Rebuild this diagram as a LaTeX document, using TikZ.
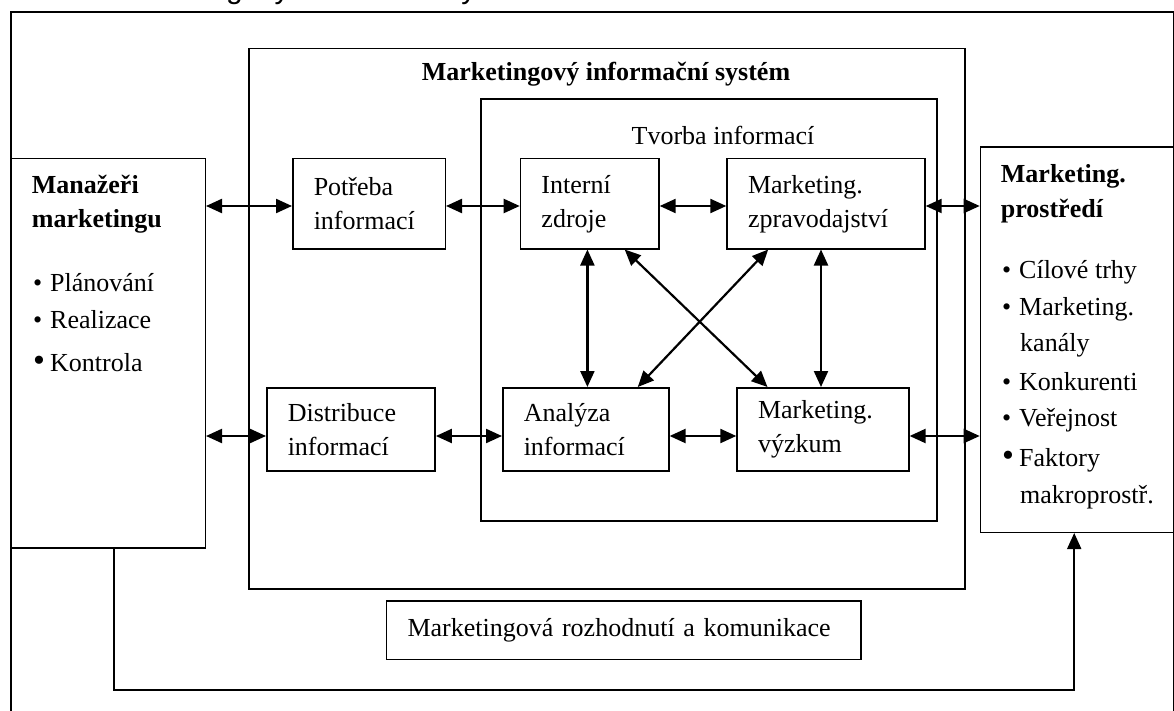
\documentclass[tikz,border=0pt]{standalone}
\usepackage{fontspec}
\setmainfont{Liberation Serif}
\newfontfamily\capfont{Liberation Sans}
\usetikzlibrary{arrows.meta,calc}
\newcommand\mybul{\makebox[17pt][l]{•}}
\newcommand\mybigbul{\makebox[17pt][l]{\fontsize{34}{34}\selectfont •}}
\begin{document}
\begin{tikzpicture}[x=1pt,y=-1pt,
  box/.style={draw, line width=1.5pt, inner sep=0pt, align=left, anchor=north west,
    font=\fontsize{26}{34}\selectfont},
  frame/.style={draw, line width=1.6pt, inner sep=0pt, anchor=north west},
  txt/.style={inner sep=0pt, anchor=base west, font=\fontsize{26}{34}\selectfont},
  btxt/.style={txt, font=\fontsize{26}{34}\selectfont\bfseries},
  dbl/.style={{Triangle[length=16pt,width=14pt]}-{Triangle[length=16pt,width=14pt]}, line width=2.2pt},
  sgl/.style={-{Triangle[length=16pt,width=14pt]}, line width=1.8pt}
]
\useasboundingbox (0,0) rectangle (1174,711);
\clip (0,0) rectangle (1174,711);

% clipped caption at the top
\node[inner sep=0pt, anchor=base west, font=\capfont\fontsize{30}{30}\selectfont] (cap) at (111,-1) {Marketingový informační systém};

% outer frame
\node[frame, minimum width=1162.5pt, minimum height=760pt] (outer) at (10,11.5) {};

% containers
\node[frame, line width=1.5pt, minimum width=716.4pt, minimum height=540.6pt] (mis) at (248,47.6) {};
\node[frame, line width=1.5pt, minimum width=456.1pt, minimum height=421.8pt] (tvo) at (480.3,98.4) {};
\node[btxt, anchor=base] (mist) at (606,81) {Marketingový informační systém};
\node[txt, anchor=base] (tvot) at (723,145) {Tvorba informací};

% side boxes
\node[frame, line width=1.5pt, minimum width=194.5pt, minimum height=389.6pt] (man) at (10,157.8) {};
\node[frame, line width=1.5pt, minimum width=192.8pt, minimum height=385pt] (env) at (979.7,146.5) {};

\node[btxt] (mant1) at (31.7,193.3) {Manažeři};
\node[btxt] (mant2) at (31.7,227.3) {marketingu};
\node[txt] (manb1) at (33,291.7) {\mybul Plánování};
\node[txt] (manb2) at (33,328.3) {\mybul Realizace};
\node[txt] (manb3) at (33,371) {\mybigbul Kontrola};

\node[btxt] (envt1) at (1000.7,182.7) {Marketing.};
\node[btxt] (envt2) at (1000.7,217.3) {prostředí};
\node[txt] (envb1) at (1002,278.3) {\mybul Cílové trhy};
\node[txt] (envb2) at (1002,315) {\mybul Marketing.};
\node[txt] (envb2b) at (1020,351.7) {kanály};
\node[txt] (envb3) at (1002,390) {\mybul Konkurenti};
\node[txt] (envb4) at (1002,426.7) {\mybul Veřejnost};
\node[txt] (envb5) at (1002,466.7) {\mybigbul Faktory};
\node[txt] (envb5b) at (1020,503.3) {makroprostř.};

% inner boxes
\node[box, minimum width=152.5pt, minimum height=90pt, text width=110.5pt] (pot) at (292,158) {Potřeba\\informací};
\node[box, minimum width=138.5pt, minimum height=90pt, text width=96.5pt] (int) at (519.7,158) {Interní\\zdroje};
\node[box, minimum width=197.9pt, minimum height=90pt, text width=155.9pt] (zpr) at (726.3,158) {Marketing.\\zpravodajství};
\node[box, minimum width=168.4pt, minimum height=83.3pt, text width=126.4pt] (dis) at (266,387) {Distribuce\\informací};
\node[box, minimum width=166.1pt, minimum height=83.3pt, text width=124.1pt] (ana) at (502,387) {Analýza\\informací};
\node[box, minimum width=171.8pt, minimum height=83.3pt, text width=129.8pt] (vyz) at (736.3,387) {Marketing.\\výzkum};
\node[box, minimum width=474.5pt, minimum height=58.5pt, text width=432.5pt] (roz) at (385.8,600) {Marketingová rozhodnutí a komunikace};

% helper coordinates
\coordinate (h1) at (0,206);
\coordinate (h2) at (0,436);
\coordinate (v1) at (587.4,0);
\coordinate (v2) at (821,0);
\coordinate (lp1) at (114,690.3);
\coordinate (lp2) at (1074.2,690.3);

% horizontal arrows
\draw[dbl] (man.east |- h1) -- (pot.west |- h1);
\draw[dbl] (pot.east |- h1) -- (int.west |- h1);
\draw[dbl] (int.east |- h1) -- (zpr.west |- h1);
\draw[dbl] (zpr.east |- h1) -- (env.west |- h1);
\draw[dbl] (man.east |- h2) -- (dis.west |- h2);
\draw[dbl] (dis.east |- h2) -- (ana.west |- h2);
\draw[dbl] (ana.east |- h2) -- (vyz.west |- h2);
\draw[dbl] (vyz.east |- h2) -- (env.west |- h2);

% vertical arrows
\draw[dbl] (int.south -| v1) -- (ana.north -| v1);
\draw[dbl] (zpr.south -| v2) -- (vyz.north -| v2);

% diagonals
\draw[dbl] ($(int.south west)!0.75!(int.south east)$) -- ($(vyz.north west)!0.18!(vyz.north east)$);
\draw[dbl] ($(zpr.south west)!0.21!(zpr.south east)$) -- ($(ana.north west)!0.81!(ana.north east)$);

% feedback loop
\draw[sgl] (man.south -| lp1) -- (lp1) -- (lp2) -- (env.south -| lp2);
\end{tikzpicture}
\end{document}
